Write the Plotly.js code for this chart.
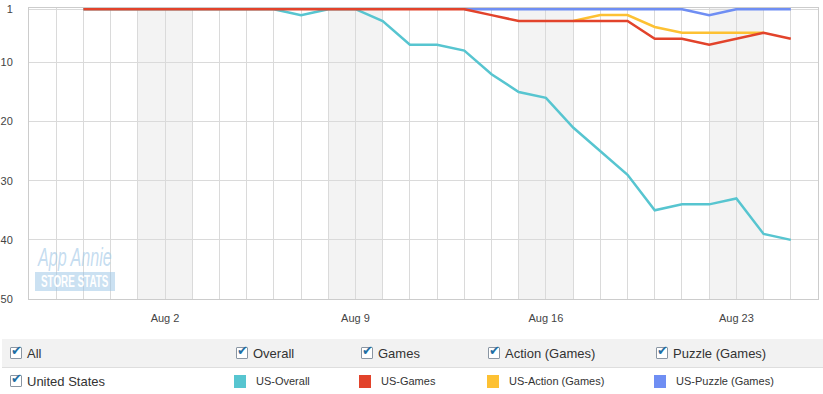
<!DOCTYPE html>
<html>
<head>
<meta charset="utf-8">
<script src="https://cdn.plot.ly/plotly-3.0.1.min.js"></script>
<style>
  html, body { margin:0; padding:0; background:#fff; width:823px; height:394px; overflow:hidden; font-family:"Liberation Sans", Arial, Helvetica, sans-serif; }
  #chart { position:absolute; left:0; top:0; width:823px; height:336px; }
  #row1 { position:absolute; left:2px; top:339px; width:821px; height:28px; background:#f2f2f2; border-bottom:1px solid #dedede; }
  #row2 { position:absolute; left:2px; top:368px; width:821px; height:26px; }
  .item { position:absolute; top:0; height:100%; display:flex; align-items:center; color:#333; white-space:nowrap; }
  .big { font-size:13px; }
  .small { font-size:11px; }
  .cb { position:relative; width:10px; height:10px; border:1px solid #8a96a3; background:#fff; margin-right:5px; border-radius:1px; }
  .cb::after { content:"\2714"; position:absolute; left:0px; top:-5px; font-size:13px; color:#1f6ea3; font-family:"DejaVu Sans", sans-serif; }
  .sw { width:12px; height:13px; margin-right:10px; }
  #wm { position:absolute; left:35px; top:244px; width:80px; height:48px; pointer-events:none; }
  #wm1 { position:absolute; left:3px; top:0px; font-family:"Liberation Sans", Arial, sans-serif; font-style:italic; font-size:25px; line-height:26px;
         color:rgba(165,202,232,0.65); transform:scaleX(0.645); transform-origin:left top; white-space:nowrap; }
  #wm2 { position:absolute; left:0px; top:28px; width:80px; height:19px; background:rgba(155,198,230,0.52); }
  #wm2 span { position:absolute; left:6px; top:0px; font-family:"Liberation Sans", Arial, sans-serif; font-weight:bold; font-size:17px; line-height:19px;
              color:#fff; transform:scaleX(0.58); transform-origin:left top; white-space:nowrap; }
</style>
</head>
<body>
<div id="chart"></div>
<div id="wm"><div id="wm1">App Annie</div><div id="wm2"><span>STORE STATS</span></div></div>
<div id="row1"></div>
<div id="row2"></div>
<script>
// ---- data ----
var dates = ['2015-07-30','2015-07-31','2015-08-01','2015-08-02','2015-08-03','2015-08-04','2015-08-05',
             '2015-08-06','2015-08-07','2015-08-08','2015-08-09','2015-08-10','2015-08-11','2015-08-12',
             '2015-08-13','2015-08-14','2015-08-15','2015-08-16','2015-08-17','2015-08-18','2015-08-19',
             '2015-08-20','2015-08-21','2015-08-22','2015-08-23','2015-08-24','2015-08-25'];
var overallRank = [1,1,1,1,1,1,1,1,2,1,1,3,7,7,8,12,15,16,21,25,29,35,34,34,33,39,40];
var gamesRank   = [1,1,1,1,1,1,1,1,1,1,1,1,1,1,1,2,3,3,3,3,3,6,6,7,6,5,6];
var actionDates = ['2015-08-17','2015-08-18','2015-08-19','2015-08-20','2015-08-21','2015-08-22','2015-08-23','2015-08-24'];
var actionRank  = [3,2,2,4,5,5,5,5];
var puzzleDates = ['2015-08-13','2015-08-14','2015-08-15','2015-08-16','2015-08-17','2015-08-18','2015-08-19',
                   '2015-08-20','2015-08-21','2015-08-22','2015-08-23','2015-08-24','2015-08-25'];
var puzzleRank  = [1,1,1,1,1,1,1,1,1,2,1,1,1];
var seriesNames = ['US-Overall','US-Games','US-Action (Games)','US-Puzzle (Games)'];
var seriesColors = ['#57c5d0','#e2432b','#fdc133','#6f8ef3'];
var weekendStarts = ['2015-08-01','2015-08-08','2015-08-15','2015-08-22'];
var weekendEnds   = ['2015-08-03','2015-08-10','2015-08-17','2015-08-24'];
var yTicks = [1,10,20,30,40,50];
var filterLabels = ['All','Overall','Games','Action (Games)','Puzzle (Games)'];
var countryLabel = 'United States';

// ---- chart ----
function mk(x, y, i){
  return {type:'scatter', mode:'lines', x:x, y:y, name:seriesNames[i], cliponaxis:false,
          line:{color:seriesColors[i], width:2.5}, hoverinfo:'x+y+name'};
}
var traces = [
  mk(dates, overallRank, 0),
  mk(actionDates, actionRank, 2),
  mk(puzzleDates, puzzleRank, 3),
  mk(dates, gamesRank, 1)
];

var shapes = weekendStarts.map(function(d,i){
  return {type:'rect', xref:'x', yref:'paper', x0:d, x1:weekendEnds[i], y0:0, y1:1,
          fillcolor:'#f3f3f3', line:{width:0}, layer:'below'};
});

var layout = {
  width:823, height:336,
  margin:{l:29, r:5, t:8, b:37},
  paper_bgcolor:'rgba(0,0,0,0)', plot_bgcolor:'#fff',
  showlegend:false,
  font:{family:'"Liberation Sans", Arial, Helvetica, sans-serif', size:11, color:'#444'},
  xaxis:{type:'date', range:['2015-07-28','2015-08-26'], tick0:'2015-08-02', dtick:7*86400000,
         tickformat:'%b %-d', showgrid:true, gridcolor:'#dadada', gridwidth:1,
         minor:{dtick:86400000, tick0:'2015-07-28', showgrid:true, gridcolor:'#dadada', gridwidth:1},
         showline:true, linecolor:'#cccccc', mirror:true, zeroline:false, ticks:'', layer:'below traces',
         ticklabelstandoff:9, fixedrange:true},
  yaxis:{range:[50,0.8], tickvals:yTicks, ticktext:yTicks.map(String), showgrid:true, gridcolor:'#dadada',
         showline:true, linecolor:'#cccccc', mirror:true, zeroline:false, ticks:'', layer:'below traces',
         ticklabelstandoff:13, fixedrange:true},
  shapes:shapes
};
Plotly.newPlot('chart', traces, layout, {displayModeBar:false});

// ---- controls below chart ----
var row1 = document.getElementById('row1');
var row1X = [8, 234, 359, 486, 654];
filterLabels.forEach(function(t,i){
  var d = document.createElement('div');
  d.className = 'item big';
  d.style.left = row1X[i] + 'px';
  d.innerHTML = '<span class="cb"></span><span>' + t + '</span>';
  row1.appendChild(d);
});
var row2 = document.getElementById('row2');
var c = document.createElement('div');
c.className = 'item big'; c.style.left = '8px';
c.innerHTML = '<span class="cb"></span><span>' + countryLabel + '</span>';
row2.appendChild(c);
var row2X = [232, 357, 485, 652];
seriesNames.forEach(function(t,i){
  var d = document.createElement('div');
  d.className = 'item small';
  d.style.left = row2X[i] + 'px';
  d.innerHTML = '<span class="sw" style="background:' + seriesColors[i] + '"></span><span>' + t + '</span>';
  row2.appendChild(d);
});
</script>
</body>
</html>
